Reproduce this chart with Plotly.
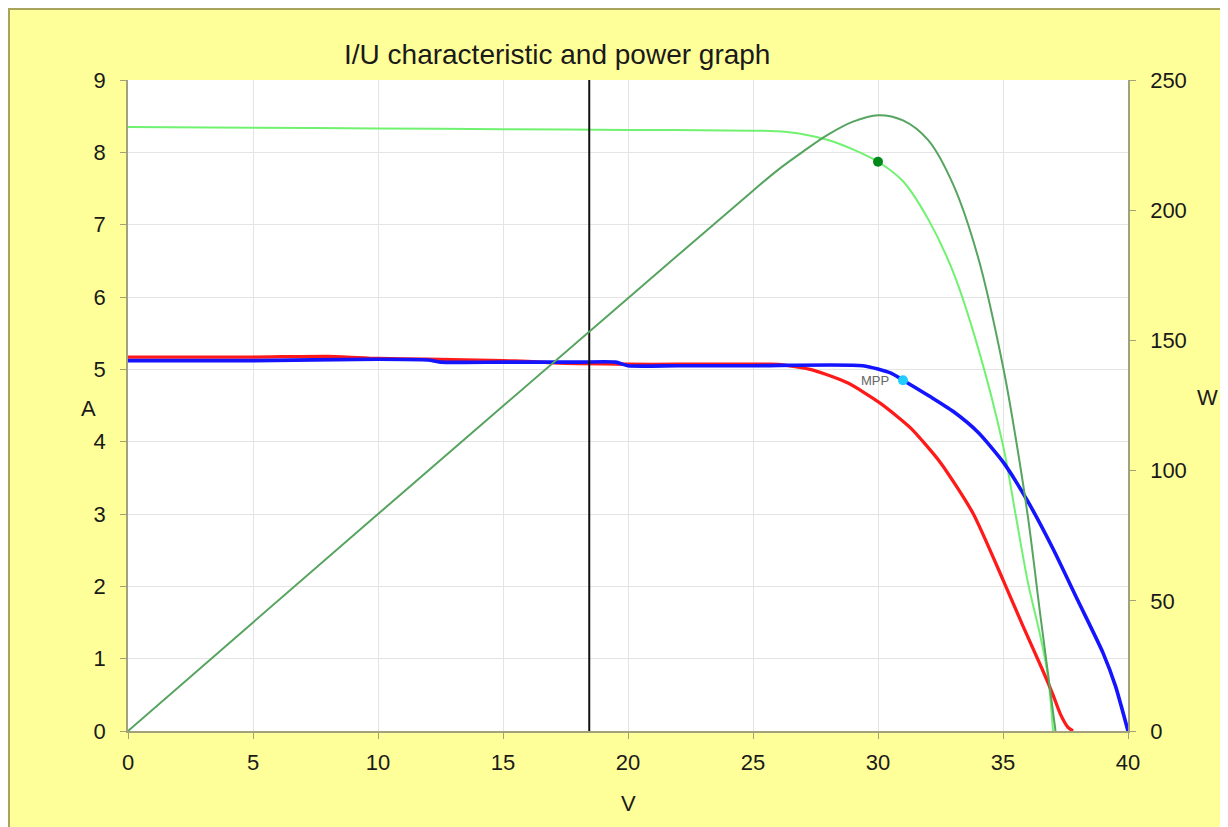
import plotly.graph_objects as go

# ---------------- data ----------------
GREEN_V = [0, 5, 10, 15, 20, 25, 26, 27, 28, 29, 30, 31, 32, 33, 34, 35, 35.5, 36, 36.5, 36.8, 37.0]
GREEN_I = [8.35, 8.34, 8.33, 8.32, 8.31, 8.30, 8.29, 8.25, 8.17, 8.04, 7.87, 7.60, 7.08, 6.35, 5.30, 3.95, 3.00, 2.05, 1.30, 0.75, 0.0]

POWER_V = [0, 5, 10, 15, 20, 25, 26, 27, 28, 29, 30, 31, 32, 33, 34, 35, 35.5, 36, 36.5, 37.1]
POWER_W = [0, 41.7, 83.3, 124.8, 166.2, 207.5, 215.5, 222.5, 229.0, 234.0, 236.5, 234.5, 227.0, 210.0, 182.0, 140.0, 113.0, 82.0, 44.0, 0.0]

RED_V = [0, 5, 8, 10, 12, 15, 16, 17, 18, 20, 22, 25, 26, 27.4, 28.8, 30.1, 31.3, 32.5, 33.8, 35.0, 35.8, 36.6, 37.0, 37.3, 37.6, 37.8]
RED_I = [5.17, 5.17, 5.18, 5.15, 5.14, 5.12, 5.11, 5.09, 5.08, 5.07, 5.07, 5.07, 5.07, 4.99, 4.81, 4.53, 4.19, 3.71, 3.01, 2.09, 1.45, 0.83, 0.50, 0.23, 0.05, 0.0]

BLUE_V = [0, 5, 10, 12, 12.5, 15, 18, 19.5, 20, 22, 25, 29.4, 30.5, 31.0, 32.1, 33.0, 34.0, 35.0, 36.0, 37.0, 38.0, 39.0, 39.5, 40.0]
BLUE_I = [5.12, 5.12, 5.14, 5.13, 5.10, 5.10, 5.10, 5.10, 5.05, 5.05, 5.05, 5.05, 4.95, 4.85, 4.62, 4.42, 4.13, 3.72, 3.17, 2.52, 1.80, 1.08, 0.62, 0.0]

MPP_V = [31.0]
MPP_I = [4.85]
GREEN_DOT_V = [30.0]
GREEN_DOT_I = [7.87]

VLINE_V = [18.45, 18.45]
VLINE_I = [0, 9]

X_TICKS = [0, 5, 10, 15, 20, 25, 30, 35, 40]
Y_TICKS = [0, 1, 2, 3, 4, 5, 6, 7, 8, 9]
Y2_TICKS = [0, 50, 100, 150, 200, 250]

TITLE = "I/U characteristic and power graph"

# ---------------- figure ----------------
FONT = "Liberation Sans, Arial, sans-serif"
AXC = "#a3a07c"
PLOT_W, PLOT_H = 1000, 651
L, T = 120, 72

fig = go.Figure()

fig.add_trace(go.Scatter(x=POWER_V, y=POWER_W, yaxis="y2", mode="lines",
                         line=dict(color="#56a45f", width=2, shape="spline", smoothing=1.0),
                         hoverinfo="skip", showlegend=False))
fig.add_trace(go.Scatter(x=GREEN_V, y=GREEN_I, mode="lines",
                         line=dict(color="#70f270", width=2, shape="spline", smoothing=1.0),
                         hoverinfo="skip", showlegend=False))
fig.add_trace(go.Scatter(x=GREEN_DOT_V, y=GREEN_DOT_I, mode="markers",
                         marker=dict(color="#008a1a", size=10),
                         hoverinfo="skip", showlegend=False))
fig.add_trace(go.Scatter(x=RED_V, y=RED_I, mode="lines",
                         line=dict(color="#ff1a1a", width=3.3, shape="spline", smoothing=0.6),
                         hoverinfo="skip", showlegend=False))
fig.add_trace(go.Scatter(x=BLUE_V, y=BLUE_I, mode="lines",
                         line=dict(color="#1414ff", width=3.6, shape="spline", smoothing=0.6),
                         hoverinfo="skip", showlegend=False))
fig.add_trace(go.Scatter(x=MPP_V, y=MPP_I, mode="markers",
                         marker=dict(color="#22ccff", size=10),
                         hoverinfo="skip", showlegend=False))
fig.add_trace(go.Scatter(x=VLINE_V, y=VLINE_I, mode="lines",
                         line=dict(color="#111111", width=2),
                         hoverinfo="skip", showlegend=False))

fig.add_annotation(x=MPP_V[0], y=MPP_I[0], text="MPP", showarrow=False,
                   xanchor="right", yanchor="middle", xshift=-12,
                   font=dict(family=FONT, size=13, color="#666666"))

# chart title and axis titles
fig.add_annotation(x=0.429, y=1.0 + 25 / PLOT_H, xref="paper", yref="paper", text=TITLE,
                   showarrow=False, xanchor="center", yanchor="middle",
                   font=dict(family=FONT, size=28, color="#1a1a1a"))
fig.add_annotation(x=-0.04, y=0.496, xref="paper", yref="paper", text="A",
                   showarrow=False, xanchor="center", yanchor="middle",
                   font=dict(family=FONT, size=22, color="#1a1a1a"))
fig.add_annotation(x=1.079, y=0.513, xref="paper", yref="paper", text="W",
                   showarrow=False, xanchor="center", yanchor="middle",
                   font=dict(family=FONT, size=22, color="#1a1a1a"))
fig.add_annotation(x=0.5, y=-0.1106, xref="paper", yref="paper", text="V",
                   showarrow=False, xanchor="center", yanchor="middle",
                   font=dict(family=FONT, size=22, color="#1a1a1a"))

# border of the chart area (top and left edges visible)
fig.add_shape(type="rect", xref="paper", yref="paper",
              x0=-L / PLOT_W, x1=1.3, y0=-0.3, y1=(PLOT_H + T) / PLOT_H,
              fillcolor="rgba(0,0,0,0)", line=dict(color="#a9a35c", width=4), layer="below")

tickfont = dict(family=FONT, size=22, color="#1a1a1a")

fig.update_layout(
    width=1228, height=827,
    margin=dict(l=L, r=1228 - L - PLOT_W, t=T, b=827 - T - PLOT_H),
    paper_bgcolor="#ffff99",
    plot_bgcolor="#ffffff",
    showlegend=False,
    xaxis=dict(range=[0, 40], tickvals=X_TICKS, ticktext=[str(v) for v in X_TICKS],
               showgrid=True, gridcolor="#e4e4e4", gridwidth=1, zeroline=False,
               showline=True, linecolor=AXC, linewidth=1.5,
               ticks="outside", ticklen=6, tickcolor=AXC, tickfont=tickfont,
               ticklabelstandoff=5, fixedrange=True),
    yaxis=dict(range=[0, 9], tickvals=Y_TICKS, ticktext=[str(v) for v in Y_TICKS],
               showgrid=True, gridcolor="#e4e4e4", gridwidth=1, zeroline=False,
               showline=True, linecolor=AXC, linewidth=1.5,
               ticks="outside", ticklen=6, tickcolor=AXC, tickfont=tickfont,
               ticklabelstandoff=10, fixedrange=True),
    yaxis2=dict(range=[0, 250], tickvals=Y2_TICKS, ticktext=[str(v) for v in Y2_TICKS],
                overlaying="y", side="right", showgrid=False, zeroline=False,
                showline=True, linecolor=AXC, linewidth=1.5,
                ticks="outside", ticklen=6, tickcolor=AXC, tickfont=tickfont,
                ticklabelstandoff=10, fixedrange=True),
)

fig.write_html("out.html")
